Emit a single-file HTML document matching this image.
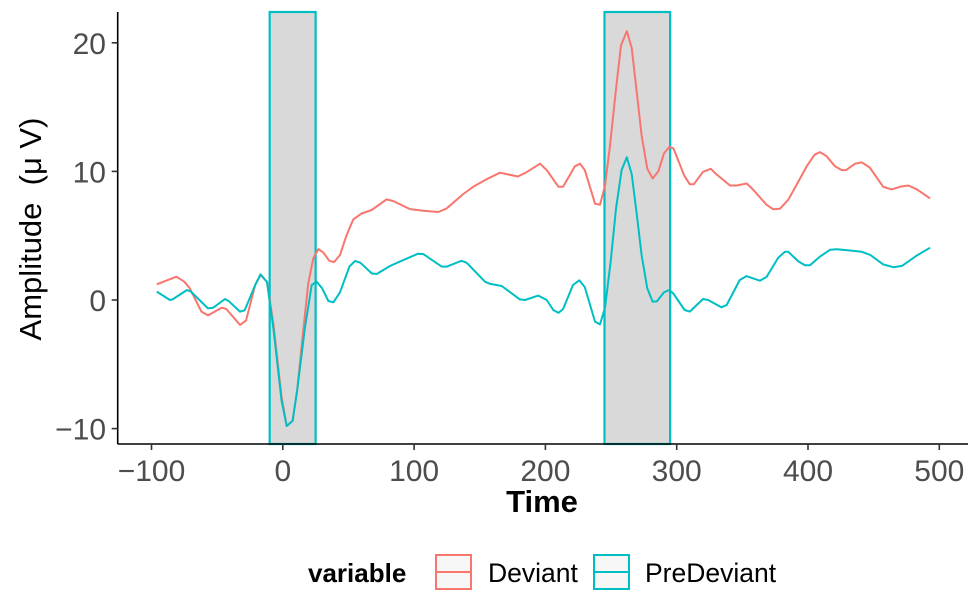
<!DOCTYPE html>
<html><head><meta charset="utf-8">
<style>
html,body{margin:0;padding:0;background:#fff;}
svg{display:block;font-family:"Liberation Sans",sans-serif;}
</style></head>
<body>
<svg id="chart" width="977" height="608" viewBox="0 0 977 608" xmlns="http://www.w3.org/2000/svg">
  <g id="windows"></g>
  <g id="lines"></g>
  <g id="axes"></g>
  <text transform="translate(41,229) rotate(-90)" text-anchor="middle" font-size="31" fill="#000">Amplitude&#160; (μ V)</text>
  <text x="542" y="512" text-anchor="middle" font-size="31" font-weight="bold" fill="#000">Time</text>
  <g>
    <text x="308" y="582" font-size="26" font-weight="bold" fill="#000">variable</text>
    <g>
      <rect x="436" y="555" width="35" height="34" fill="#f7f7f7" stroke="#F8766D" stroke-width="2"/>
      <line x1="436" y1="572" x2="471" y2="572" stroke="#F8766D" stroke-width="2"/>
      <text x="488" y="582" font-size="26.5" fill="#000">Deviant</text>
    </g>
    <g>
      <rect x="594" y="555" width="35" height="34" fill="#f7f7f7" stroke="#00BFC4" stroke-width="2"/>
      <line x1="594" y1="572" x2="629" y2="572" stroke="#00BFC4" stroke-width="2"/>
      <text x="645" y="582" font-size="26.5" fill="#000">PreDeviant</text>
    </g>
  </g>
</svg>
<script>
const devTime = [-96,-81,-75,-71,-62,-57,-46.5,-43,-32.6,-28,-21,-17,-12,-7,-1,3,7.5,11,15.6,19.4,23.2,27,30.8,35.4,39,43.6,48.6,53.7,60,67.7,79,84,96.9,107,118.4,124.8,137.5,145,155,165.4,170,179,185,196,201,210,213.5,222.5,226.4,230,237.8,241.6,245.4,249,253.8,257.6,262,265.7,269.5,273.3,277.6,281.7,286,290.3,294.4,297.5,305.6,310,313,320,326,330,340.6,345.7,353.3,358,368.5,373.6,378.7,385,391,399,405,409,414,420.6,425.7,429,435.8,441,447,457.3,463.7,470,476.4,483,493];
const devValues = [1.22,1.81,1.42,0.93,-0.9,-1.2,-0.6,-0.7,-1.94,-1.6,1.17,1.94,1.42,-2.0,-7.5,-9.8,-9.4,-7,-2.3,1.3,3.24,3.96,3.7,3.05,2.95,3.5,5.05,6.27,6.73,7.0,7.82,7.7,7.07,6.94,6.84,7.12,8.24,8.8,9.38,9.9,9.8,9.6,9.9,10.6,10.1,8.8,8.8,10.4,10.6,10.1,7.5,7.4,8.9,11.8,16.4,19.8,20.9,19.6,16.2,12.8,10.2,9.45,10.0,11.4,11.9,11.8,9.7,9.0,9.0,9.97,10.2,9.8,8.9,8.9,9.06,8.6,7.4,7.05,7.1,7.8,8.9,10.4,11.3,11.5,11.2,10.4,10.1,10.1,10.6,10.7,10.3,8.8,8.6,8.8,8.9,8.6,7.9];
const preTime = [-96,-86,-84,-73,-70,-57,-53,-44,-41,-32.6,-29,-21,-17,-12,-7,-1,3,7.5,11,17,22,25.8,30,34.7,38.5,43.6,50.7,55,59,67.7,71.5,81.6,91.8,103,107,121,125,136,140,154,158,166.7,180.6,184.5,194.6,201,206,210,213.5,221,225.8,230,237.8,241.6,245.4,249.7,253.8,258,262,265.7,269.5,273.3,277.6,281.7,285,290.3,294.4,297.5,306,310,320,324,334,338,348,353,363.4,368.5,377.4,382.5,385,392.6,397.7,401.5,409,416.8,422,432,441,447.5,457.3,465,471.6,482.8,493];
const preValues = [0.65,0.0,0.05,0.78,0.65,-0.65,-0.6,0.08,-0.1,-0.9,-0.8,1.17,2.0,1.4,-2.33,-7.8,-9.8,-9.4,-7,-2.07,1.17,1.42,0.9,-0.08,-0.18,0.6,2.6,3.03,2.9,2.07,2.02,2.64,3.1,3.6,3.57,2.6,2.6,3.05,2.9,1.42,1.25,1.09,0.05,0.0,0.34,0.0,-0.78,-1.0,-0.7,1.17,1.53,1.0,-1.68,-1.9,-0.6,3.0,7.1,10.1,11.1,9.8,6.7,3.5,0.9,-0.13,-0.1,0.6,0.78,0.5,-0.78,-0.9,0.08,0.0,-0.57,-0.4,1.55,1.86,1.5,1.8,3.3,3.75,3.75,3.0,2.7,2.7,3.37,3.9,3.95,3.85,3.75,3.5,2.77,2.55,2.65,3.45,4.07];
const windowStarts = [-10, 245];
const windowEnds = [25, 295];
const xTicks = [-100, 0, 100, 200, 300, 400, 500];
const yTicks = [-10, 0, 10, 20];

const NS = 'http://www.w3.org/2000/svg';
const L = 117.7, R = 968, T = 12, B = 444;
function xs(t){ return 282.8 + t * 1.313; }
function ys(v){ return 300 - v * 12.86; }
function mk(tag, attrs, parent){
  const e = document.createElementNS(NS, tag);
  for (const k in attrs) e.setAttribute(k, attrs[k]);
  parent.appendChild(e);
  return e;
}
const win = document.getElementById('windows');
windowStarts.forEach((s, i) => {
  const r = mk('rect', {x: xs(s), y: T, width: xs(windowEnds[i]) - xs(s), height: B - T, fill: '#d9d9d9', stroke: '#00BFC4', 'stroke-width': 2.2}, win);
  
  
});
const lines = document.getElementById('lines');
function drawLine(times, vals, color, name){
  const d = times.map((t, i) => (i ? 'L' : 'M') + xs(t).toFixed(1) + ',' + ys(vals[i]).toFixed(1)).join('');
  const p = mk('path', {d: d, fill: 'none', stroke: color, 'stroke-width': 2, 'stroke-linejoin': 'round'}, lines);
  
  
}
drawLine(devTime, devValues, '#F8766D', 'deviant-line');
drawLine(preTime, preValues, '#00BFC4', 'predeviant-line');

const ax = document.getElementById('axes');
const yl = mk('line', {x1: L, y1: T, x2: L, y2: B, stroke: '#000', 'stroke-width': 1.6}, ax);


const xl = mk('line', {x1: L, y1: B, x2: R, y2: B, stroke: '#000', 'stroke-width': 1.6}, ax);


xTicks.forEach(t => {
  const tk = mk('line', {x1: xs(t), y1: B, x2: xs(t), y2: B + 6, stroke: '#333', 'stroke-width': 1.6}, ax);
  
  
  const lb = mk('text', {x: xs(t), y: 481, 'text-anchor': 'middle', 'font-size': 30, fill: '#4d4d4d'}, ax);
  lb.textContent = t < 0 ? '\u2212' + Math.abs(t) : String(t);
  
  
});
yTicks.forEach(v => {
  const tk = mk('line', {x1: L - 6, y1: ys(v), x2: L, y2: ys(v), stroke: '#333', 'stroke-width': 1.6}, ax);
  
  
  const lb = mk('text', {x: 106, y: ys(v) + 11, 'text-anchor': 'end', 'font-size': 30, fill: '#4d4d4d'}, ax);
  lb.textContent = v < 0 ? '\u2212' + Math.abs(v) : String(v);
  
  
});
</script>
</body></html>
